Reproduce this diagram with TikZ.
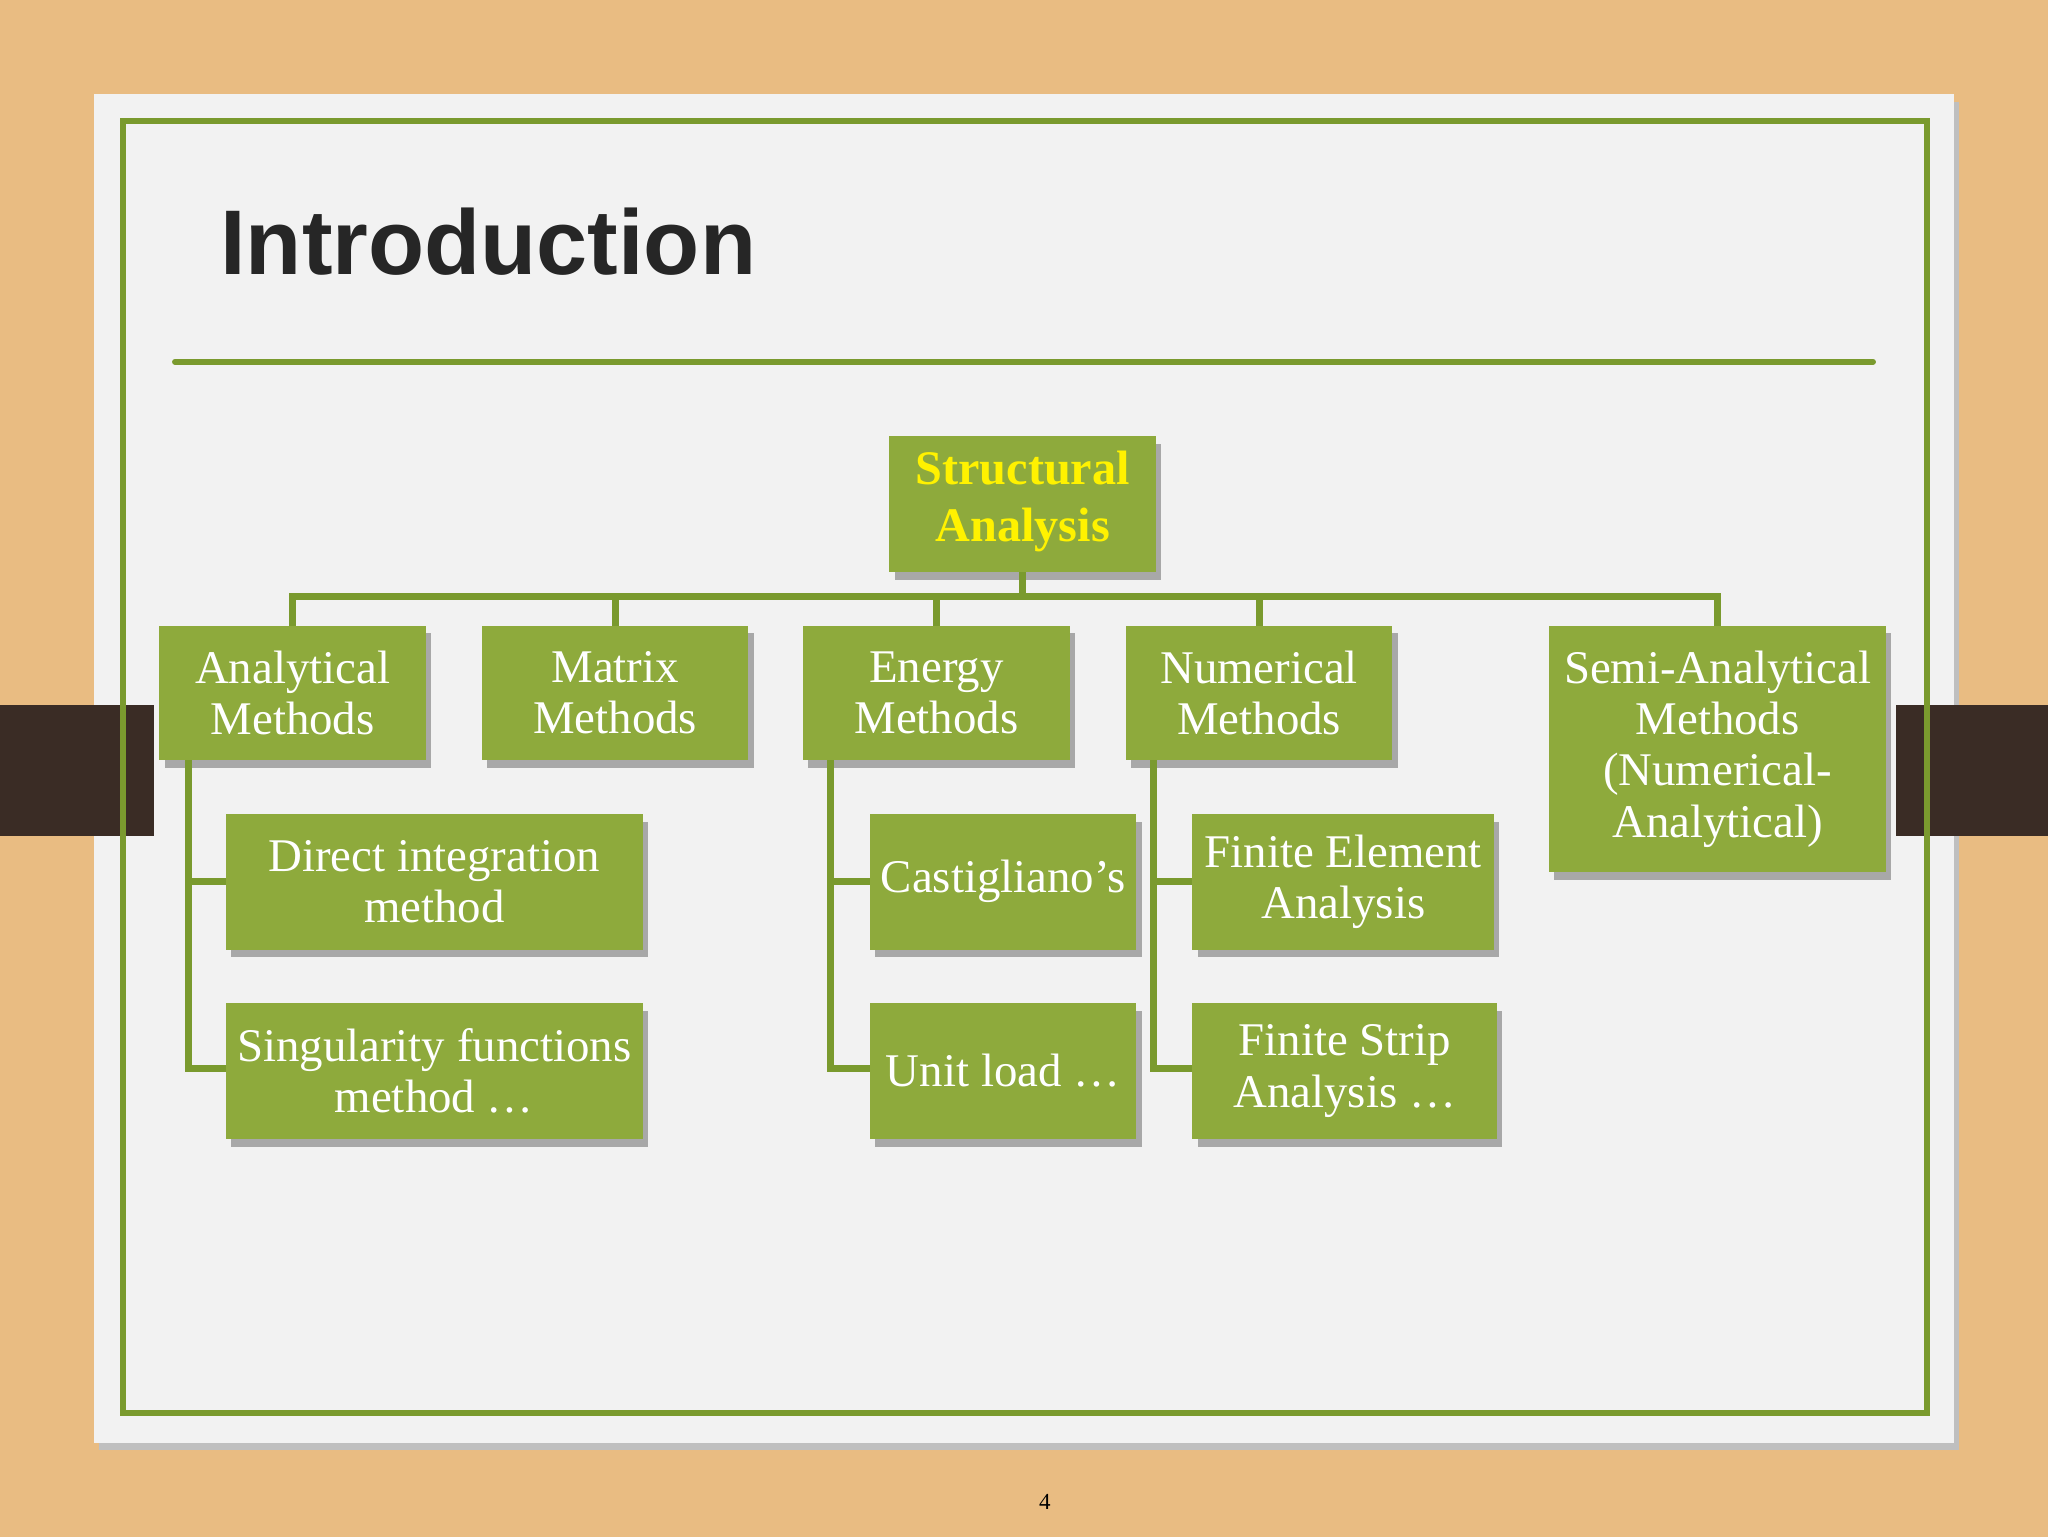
\documentclass[tikz,border=0pt]{standalone}
\usepackage{fontspec}
\setmainfont{Liberation Serif}
\newfontfamily\titlefont{Liberation Sans}
\begin{document}
\begin{tikzpicture}[x=0.01cm,y=-0.01cm,
  box/.style={fill=boxgreen,draw=none,text=white,align=center,inner sep=0pt,
    font=\fontsize{10.2pt}{11.2pt}\selectfont},
  conn/.style={draw=linegreen,line width=1.5pt}]
\definecolor{wood}{HTML}{E9BC82}
\definecolor{slide}{HTML}{F2F2F2}
\definecolor{linegreen}{HTML}{7A9A2E}
\definecolor{boxgreen}{HTML}{8EAA3C}
\definecolor{band}{HTML}{3A2C25}
\definecolor{shadowc}{HTML}{A8A8A8}
\useasboundingbox (0,0) rectangle (1568,1177);
\fill[wood] (0,0) rectangle (1568,1177);
\fill[black!25] (76,78) rectangle (1500,1110);
\fill[slide] (72,72) rectangle (1496,1105);
\fill[band] (0,540) rectangle (118,640);
\fill[band] (1452,540) rectangle (1568,640);
\draw[linegreen,line width=1.3pt] (94,93) rectangle (1475,1082);
\node[anchor=west,inner sep=0pt,font=\titlefont\bfseries\fontsize{20pt}{24pt}\selectfont,text=black!85] (title) at (168,185) {Introduction};
\draw[linegreen,line width=1.3pt,line cap=round] (134,277) -- (1434,277);
\node[font=\fontsize{5pt}{6pt}\selectfont] (pg) at (800,1150) {4};
\newcommand\bx[6]{%
  \fill[shadowc] (#2+4,#3+6) rectangle (#4+4,#5+6);
  \fill[boxgreen] (#2,#3) rectangle (#4,#5);
  \node[box] (#1) at ({(#2+#4)/2},{(#3+#5)/2}) {#6};}
\bx{sa}{681}{334}{885}{438}{}
\node[box,text=yellow,font=\bfseries\fontsize{10.5pt}{12.5pt}\selectfont] at (783,384) {Structural\\Analysis};
\bx{am}{122}{479}{326}{582}{Analytical\\Methods}
\bx{mm}{369}{479}{573}{582}{Matrix\\Methods}
\bx{em}{615}{479}{819}{582}{Energy\\Methods}
\bx{nm}{862}{479}{1066}{582}{Numerical\\Methods}
\bx{sm}{1186}{479}{1444}{668}{Semi-Analytical\\Methods\\(Numerical-\\Analytical)}
\bx{di}{173}{623}{492}{727}{Direct integration\\method}
\bx{sf}{173}{768}{492}{872}{Singularity functions\\method \dots}
\bx{ca}{666}{623}{870}{727}{Castigliano’s}
\bx{ul}{666}{768}{870}{872}{Unit load \dots}
\bx{fe}{913}{623}{1144}{727}{Finite Element\\Analysis}
\bx{fs}{913}{768}{1146}{872}{Finite Strip\\Analysis \dots}
\draw[conn] (783,438) -- (783,457);
\draw[conn] (224,479) -- (224,457) -- (1315,457) -- (1315,479);
\draw[conn] (471,457) -- (471,479);
\draw[conn] (717,457) -- (717,479);
\draw[conn] (964,457) -- (964,479);
\draw[conn] (144,582) -- (144,818) -- (173,818);
\draw[conn] (144,675) -- (173,675);
\draw[conn] (636,582) -- (636,818) -- (666,818);
\draw[conn] (636,675) -- (666,675);
\draw[conn] (883,582) -- (883,818) -- (913,818);
\draw[conn] (883,675) -- (913,675);
\end{tikzpicture}
\end{document}
